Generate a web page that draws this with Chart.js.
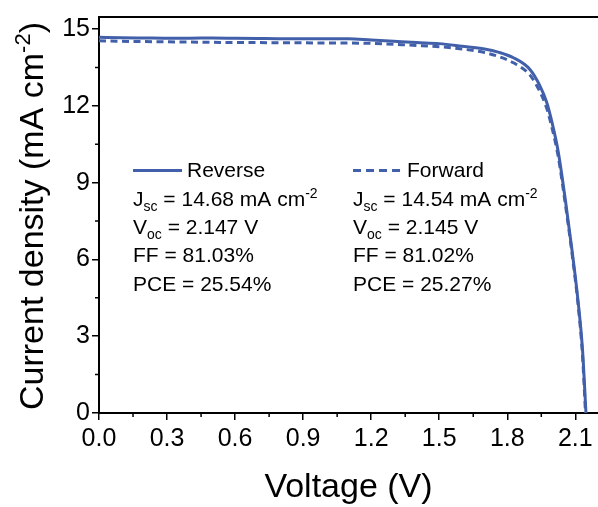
<!DOCTYPE html>
<html>
<head>
<meta charset="utf-8">
<script src="https://cdn.jsdelivr.net/npm/chart.js@4.4.1/dist/chart.umd.min.js"></script>
<style>
  html, body { margin: 0; padding: 0; background: #fff; }
  #wrap { width: 598px; height: 507px; }
</style>
</head>
<body>
<div id="wrap"><canvas id="jv" width="598" height="507"></canvas></div>
<script>
// J-V curves
var reverseV = [0, 0.1, 0.2, 0.3, 0.4, 0.5, 0.6, 0.7, 0.8, 0.9, 1.0, 1.1, 1.2, 1.3, 1.4, 1.5, 1.6, 1.7, 1.76, 1.827, 1.9, 1.944, 1.974, 1.997, 2.025, 2.057, 2.086, 2.112, 2.132, 2.147];
var reverseJ = [14.68, 14.66, 14.65, 14.64, 14.64, 14.65, 14.64, 14.63, 14.62, 14.62, 14.62, 14.62, 14.57, 14.52, 14.47, 14.43, 14.33, 14.22, 14.1, 13.88, 13.42, 12.78, 12.13, 11.36, 10.19, 8.26, 6.32, 4.38, 2.44, 0];
var forwardV = [0, 0.1, 0.2, 0.3, 0.4, 0.5, 0.6, 0.7, 0.8, 0.9, 1.0, 1.1, 1.2, 1.3, 1.4, 1.5, 1.6, 1.7, 1.76, 1.827, 1.9, 1.944, 1.974, 1.997, 2.025, 2.057, 2.086, 2.112, 2.131, 2.145];
var forwardJ = [14.54, 14.52, 14.51, 14.50, 14.49, 14.48, 14.47, 14.47, 14.46, 14.46, 14.45, 14.45, 14.44, 14.40, 14.36, 14.31, 14.22, 14.08, 13.93, 13.68, 13.2, 12.55, 11.9, 11.15, 10.0, 8.1, 6.2, 4.25, 2.35, 0];

var xTicks = [0, 0.3, 0.6, 0.9, 1.2, 1.5, 1.8, 2.1];
var yTicks = [0, 3, 6, 9, 12, 15];

var seriesNames = ['Reverse', 'Forward'];
// Jsc, Voc, FF, PCE
var reverseStats = ['14.68', '2.147', '81.03', '25.54'];
var forwardStats = ['14.54', '2.145', '81.02', '25.27'];

var FONT = "'Liberation Sans', Arial, sans-serif";
var BLUE = '#4260aa';

function pts(xs, ys) {
    return xs.map(function (v, i) { return { x: v, y: ys[i] }; });
}

// draw a run of text pieces, each {t, size, dy}
function rich(ctx, x, y, parts) {
    parts.forEach(function (p) {
        ctx.font = p.size + 'px ' + FONT;
        ctx.fillText(p.t, x, y + (p.dy || 0));
        x += ctx.measureText(p.t).width;
    });
    return x;
}
function richWidth(ctx, parts) {
    var w = 0;
    parts.forEach(function (p) {
        ctx.font = p.size + 'px ' + FONT;
        w += ctx.measureText(p.t).width;
    });
    return w;
}

var extras = {
    id: 'extras',
    afterDraw: function (chart) {
        var ctx = chart.ctx, a = chart.chartArea;
        var xs = chart.scales.x, ys = chart.scales.y;
        ctx.save();
        ctx.strokeStyle = '#000';
        ctx.fillStyle = '#000';

        // top frame line
        ctx.lineWidth = 2;
        ctx.beginPath();
        ctx.moveTo(a.left, a.top);
        ctx.lineTo(a.right, a.top);
        ctx.stroke();

        // minor ticks
        ctx.lineWidth = 1.5;
        ctx.beginPath();
        for (var i = 0; i < xTicks.length; i++) {
            var px = xs.getPixelForValue(xTicks[i] + 0.15);
            if (px > a.right) break;
            ctx.moveTo(px, a.bottom);
            ctx.lineTo(px, a.bottom + 4);
        }
        for (var j = 0; j < yTicks.length; j++) {
            var py = ys.getPixelForValue(yTicks[j] + 1.5);
            if (py < a.top) break;
            ctx.moveTo(a.left, py);
            ctx.lineTo(a.left - 4, py);
        }
        ctx.stroke();

        // axis titles
        ctx.textBaseline = 'alphabetic';
        var xt = [{ t: 'Voltage (V)', size: 34 }];
        var cx = (a.left + a.right) / 2;
        rich(ctx, cx - richWidth(ctx, xt) / 2, 497, xt);

        var yt = [{ t: 'Current density (mA cm', size: 34 }, { t: '-2', size: 22, dy: -13 }, { t: ')', size: 34 }];
        ctx.save();
        ctx.translate(43, 216);
        ctx.rotate(-Math.PI / 2);
        rich(ctx, -richWidth(ctx, yt) / 2, 0, yt);
        ctx.restore();

        // in-plot legend and stats
        var cols = [
            { x: xs.getPixelForValue(0.15), dash: [], name: seriesNames[0], s: reverseStats },
            { x: xs.getPixelForValue(1.12), dash: [8, 5], name: seriesNames[1], s: forwardStats }
        ];
        var base = ys.getPixelForValue(9.2);
        var step = 28.3;
        cols.forEach(function (c) {
            ctx.strokeStyle = BLUE;
            ctx.lineWidth = 3;
            ctx.setLineDash(c.dash);
            ctx.beginPath();
            ctx.moveTo(c.x, base - 7);
            ctx.lineTo(c.x + 49, base - 7);
            ctx.stroke();
            ctx.setLineDash([]);
            ctx.fillStyle = '#000';
            rich(ctx, c.x + 54, base, [{ t: c.name, size: 21 }]);
            rich(ctx, c.x, base + step, [
                { t: 'J', size: 21 }, { t: 'sc', size: 14, dy: 5 },
                { t: ' = ' + c.s[0] + ' mA cm', size: 21 }, { t: '-2', size: 14, dy: -8 }
            ]);
            rich(ctx, c.x, base + step * 2, [
                { t: 'V', size: 21 }, { t: 'oc', size: 14, dy: 5 },
                { t: ' = ' + c.s[1] + ' V', size: 21 }
            ]);
            rich(ctx, c.x, base + step * 3, [{ t: 'FF = ' + c.s[2] + '%', size: 21 }]);
            rich(ctx, c.x, base + step * 4, [{ t: 'PCE = ' + c.s[3] + '%', size: 21 }]);
        });
        ctx.restore();
    }
};

new Chart(document.getElementById('jv'), {
    type: 'line',
    data: {
        datasets: [{
            label: seriesNames[0],
            data: pts(reverseV, reverseJ),
            borderColor: BLUE,
            borderWidth: 3,
            pointRadius: 0,
            cubicInterpolationMode: 'monotone',
            fill: false
        }, {
            label: seriesNames[1],
            data: pts(forwardV, forwardJ),
            borderColor: BLUE,
            borderWidth: 3,
            borderDash: [7, 4.5],
            pointRadius: 0,
            cubicInterpolationMode: 'monotone',
            fill: false
        }]
    },
    options: {
        responsive: false,
        animation: false,
        devicePixelRatio: 1,
        layout: { padding: { top: 14, right: 0, left: 0, bottom: 0 } },
        plugins: { legend: { display: false }, tooltip: { enabled: false } },
        scales: {
            x: {
                type: 'linear',
                min: 0, max: 2.2,
                afterBuildTicks: function (s) { s.ticks = xTicks.map(function (v) { return { value: v }; }); },
                afterFit: function (s) { s.height = 94; },
                ticks: {
                    color: '#000',
                    font: { family: FONT, size: 25 },
                    padding: 4,
                    maxRotation: 0,
                    callback: function (v) { return Number(v).toFixed(1); }
                },
                grid: { drawOnChartArea: false, tickLength: 7, color: '#000', lineWidth: 1.5 },
                border: { color: '#000', width: 2 }
            },
            y: {
                type: 'linear',
                min: 0, max: 15.47,
                afterBuildTicks: function (s) { s.ticks = yTicks.map(function (v) { return { value: v }; }); },
                afterFit: function (s) { s.width = 99; },
                ticks: {
                    color: '#000',
                    font: { family: FONT, size: 25 },
                    padding: 2,
                    callback: function (v) { return String(v); }
                },
                grid: { drawOnChartArea: false, tickLength: 7, color: '#000', lineWidth: 1.5 },
                border: { color: '#000', width: 2 }
            }
        }
    },
    plugins: [extras]
});
</script>
</body>
</html>
